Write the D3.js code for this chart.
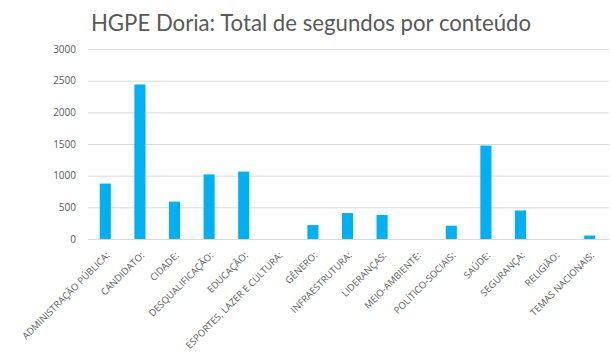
<!DOCTYPE html>
<html><head><meta charset="utf-8">
<script src="https://cdn.jsdelivr.net/npm/d3@7"></script>
<style>body{margin:0;background:#fff}svg{display:block}</style>
</head><body><svg id="c" width="612" height="358"></svg>
<script>
const categories = ["ADMINISTRAÇÃO PÚBLICA:","CANDIDATO:","CIDADE:","DESQUALIFICAÇÃO:","EDUCAÇÃO:","ESPORTES, LAZER E CULTURA:","GÊNERO:","INFRAESTRUTURA:","LIDERANÇAS:","MEIO-AMBIENTE:","POLÍTICO-SOCIAIS:","SAÚDE:","SEGURANÇA:","RELIGIÃO:","TEMAS NACIONAIS:"];
const values = [875, 2440, 590, 1020, 1065, 0, 220, 410, 380, 0, 210, 1475, 450, 0, 55];
const yTicks = [0, 500, 1000, 1500, 2000, 2500, 3000];
const title = "HGPE Doria: Total de segundos por conteúdo";

const svg = d3.select("#c");
const m = {l: 88, r: 5, t: 49, b: 119};
const W = 612, H = 358;
const x = d3.scaleBand().domain(categories).range([m.l, W - m.r]).paddingInner(0.68).paddingOuter(0.34);
const y = d3.scaleLinear().domain([0, 3000]).range([H - m.b, m.t]);

svg.append("text").attr("x", 311).attr("y", 31).attr("text-anchor", "middle")
  .attr("font-family", "Lato, 'Open Sans', sans-serif").attr("font-size", 22.2).attr("fill", "#595959").text(title);

const ya = svg.append("g").attr("transform", `translate(${m.l},0)`)
  .call(d3.axisLeft(y).tickValues(yTicks).tickFormat(d3.format("d")).tickSize(-(W - m.r - m.l + 2)).tickPadding(12));
ya.select(".domain").remove();
ya.selectAll("line").attr("stroke", "#d9d9d9").attr("stroke-width", 1);
ya.selectAll("text").attr("font-family", "'Open Sans', sans-serif").attr("font-size", 10).attr("fill", "#595959");

svg.append("g").selectAll("rect").data(values).join("rect")
  .attr("x", (d, i) => x(categories[i])).attr("width", x.bandwidth())
  .attr("y", d => y(d)).attr("height", d => y(0) - y(d)).attr("fill", "#00b0f0");

const xa = svg.append("g").attr("transform", `translate(0,${H - m.b})`)
  .call(d3.axisBottom(x).tickSize(0).tickPadding(0));
xa.select(".domain").remove();
xa.selectAll("text").attr("font-family", "'Open Sans', sans-serif").attr("font-size", 9.5).attr("fill", "#595959")
  .attr("text-anchor", "end").attr("dy", 0)
  .attr("transform", "translate(5,17) rotate(-45)");
</script></body></html>
